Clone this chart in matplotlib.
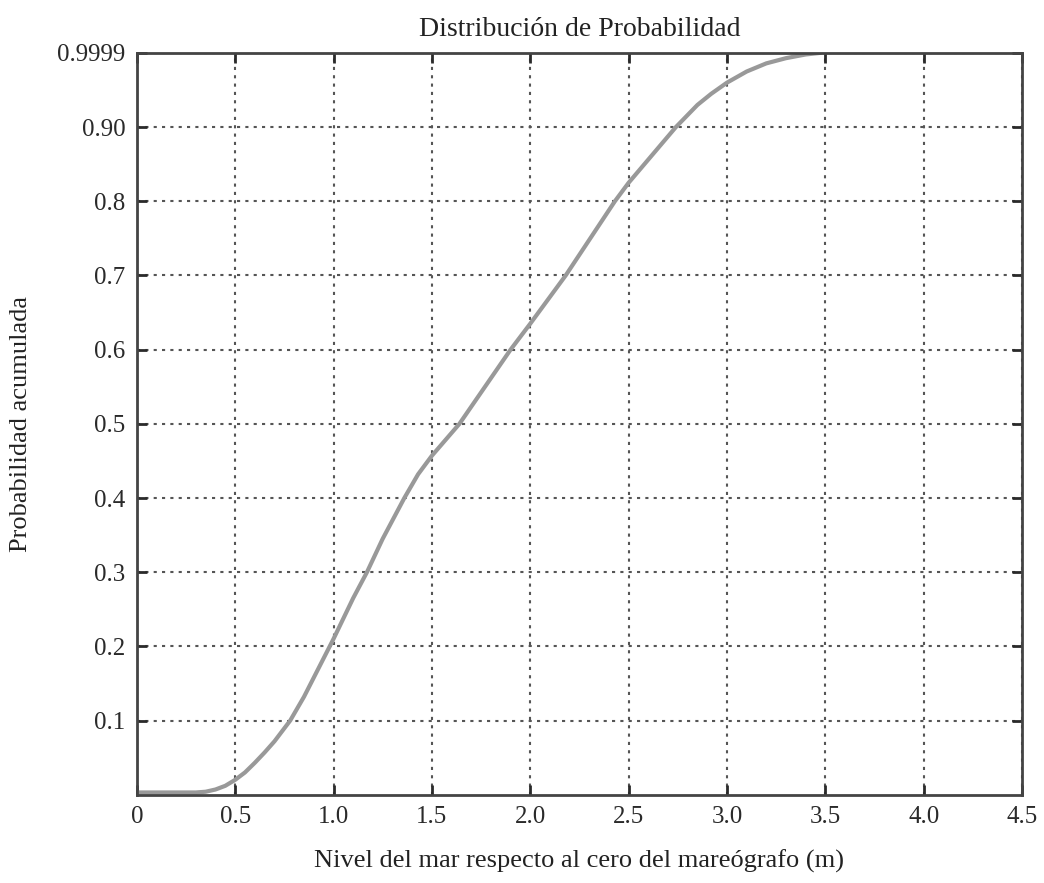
import matplotlib.pyplot as plt
import numpy as np

plt.rcParams['font.family'] = ['Liberation Serif', 'DejaVu Serif']

nivel = [0.0, 0.3, 0.35, 0.4, 0.45, 0.5, 0.55, 0.6, 0.65, 0.7, 0.78, 0.85,
         0.9, 1.0, 1.1, 1.17, 1.25, 1.36, 1.43, 1.5, 1.64, 1.9, 2.0, 2.18,
         2.43, 2.5, 2.74, 2.85, 2.92, 3.0, 3.1, 3.2, 3.3, 3.4, 3.47]
prob = [0.003, 0.003, 0.004, 0.007, 0.012, 0.02, 0.03, 0.043, 0.057, 0.072,
        0.1, 0.132, 0.158, 0.21, 0.265, 0.3, 0.345, 0.4, 0.432, 0.457, 0.5,
        0.6, 0.635, 0.7, 0.8, 0.825, 0.9, 0.93, 0.945, 0.96, 0.975, 0.986,
        0.993, 0.998, 1.0]

xticks = [0, 0.5, 1.0, 1.5, 2.0, 2.5, 3.0, 3.5, 4.0, 4.5]
xlabels = ['0', '0.5', '1.0', '1.5', '2.0', '2.5', '3.0', '3.5', '4.0', '4.5']
yticks = [0.1, 0.2, 0.3, 0.4, 0.5, 0.6, 0.7, 0.8, 0.9, 1.0]
ylabels = ['0.1', '0.2', '0.3', '0.4', '0.5', '0.6', '0.7', '0.8', '0.90', '0.9999']

fig = plt.figure(figsize=(10.44, 8.83), dpi=100)
ax = fig.add_axes([0.131, 0.1, 0.848, 0.84])

ax.plot(nivel, prob, color='#999999', lw=3)

ax.set_xlim(0, 4.5)
ax.set_ylim(0, 1.0)
ax.set_xticks(xticks)
ax.set_xticklabels(xlabels)
ax.set_yticks(yticks)
ax.set_yticklabels(ylabels)
ax.tick_params(direction='in', length=7, width=2, top=True, right=True,
               labelsize=18, colors='#2a2a2a', pad=8)
ax.grid(True, linestyle=(0, (1.5, 2.5)), color='#555555', lw=1.5)
for s in ax.spines.values():
    s.set_linewidth(2)
    s.set_color('#444444')

ax.set_title('Distribución de Probabilidad', fontsize=20, pad=12, color='#222222')
ax.set_xlabel('Nivel del mar respecto al cero del mareógrafo (m)', fontsize=19,
              labelpad=16, color='#222222')
ax.set_ylabel('Probabilidad acumulada', fontsize=19, labelpad=18, color='#222222')

fig.savefig('out.png', dpi=100)
